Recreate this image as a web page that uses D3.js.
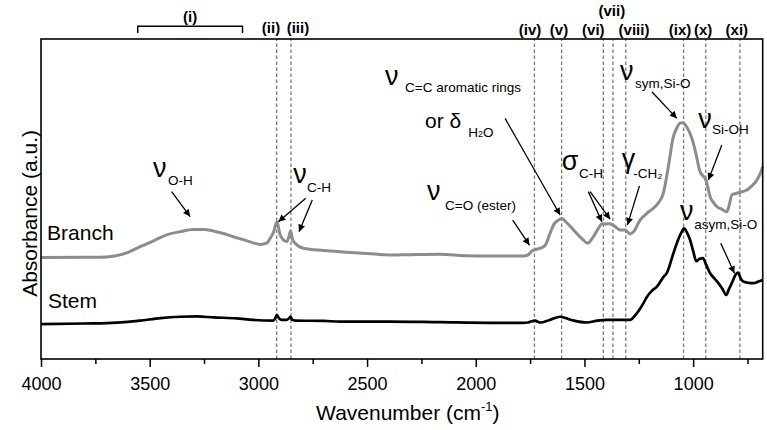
<!DOCTYPE html>
<html><head><meta charset="utf-8">
<script src="https://cdn.jsdelivr.net/npm/d3@7"></script>
<style>body{margin:0;background:#fff} svg{font-family:Arial,"Liberation Sans",sans-serif}</style>
</head><body><svg id="c" width="767" height="430"></svg>
<script>
// ---------- data ----------
const branchWn  = [4000,3800,3700,3652,3600,3544,3480,3422,3360,3299,3250,3207,3160,3115,3070,3023,2992,2960,2946,2930,2915,2900,2885,2869,2860,2852,2842,2831,2793,2700,2624,2500,2394,2300,2164,2050,1934,1850,1781,1760,1740,1725,1700,1680,1658,1642,1620,1605,1580,1550,1510,1485,1460,1435,1420,1400,1385,1370,1350,1336,1313,1290,1275,1244,1213,1183,1160,1137,1114,1091,1075,1060,1047,1035,1022,1005,991,968,950,945,935,922,905,891,870,845,835,822,810,799,780,753,730,707,690,680];
const branchAbs = [31.7,31.8,31.9,32.3,33.3,35.1,37.0,38.8,39.8,40.5,40.5,40.0,39.2,38.2,37.3,36.3,35.8,36.3,37.7,39.7,42.9,38.8,37.2,36.7,38.1,40.0,37.2,36.2,34.6,33.9,33.5,33.0,32.5,32.6,32.7,32.3,32.2,32.2,32.2,32.5,33.8,34.2,34.7,35.6,39.3,41.9,43.4,43.9,42.5,40.3,37.5,36.2,38.1,40.9,42.3,42.2,42.3,41.9,40.9,40.3,40.3,39.1,39.7,43.4,45.5,47.1,48.8,51.8,60.1,69.5,72.2,73.7,73.8,73.1,71.6,68.8,65.3,58.5,56.9,56.5,54.4,50.7,48.8,47.6,46.9,46.0,47.8,51.3,51.6,51.8,52.2,52.8,54.1,55.9,58.1,60.1];
const stemWn  = [4000,3800,3698,3600,3544,3450,3360,3280,3207,3100,3023,2931,2922,2915,2905,2892,2870,2858,2852,2845,2830,2700,2624,2400,2164,1934,1781,1760,1727,1705,1660,1612,1560,1489,1440,1397,1340,1290,1265,1229,1213,1190,1167,1137,1121,1091,1075,1055,1041,1030,1014,1000,986,970,955,940,922,900,884,865,848,835,822,805,794,780,769,745,723,700,680];
const stemAbs = [10.9,11.1,11.2,11.6,12.0,12.8,13.2,13.3,13.0,12.7,12.2,12.0,12.8,13.8,12.7,12.2,12.2,12.8,13.2,12.3,12.0,11.9,11.7,11.7,11.5,11.3,11.3,11.4,12.0,11.4,12.2,13.2,12.2,11.4,12.0,12.2,12.2,12.2,13.8,17.4,19.4,21.3,22.6,25.6,26.9,33.0,36.2,39.4,40.8,39.7,37.2,33.8,30.6,31.3,31.5,29.4,26.8,25.0,23.7,21.9,20.0,21.9,23.7,26.3,27.0,25.0,24.2,23.8,23.7,24.2,24.7];

const majorTicks = [4000,3500,3000,2500,2000,1500,1000];
const minorTicks = [3750,3250,2750,2250,1750,1250,750];

const bandWn     = [2916,2850,1730,1605,1413,1369,1310,1044,942,785];
const bandLabels = ["(ii)","(iii)","(iv)","(v)","(vi)","(vii)","(viii)","(ix)","(x)","(xi)"];
const bandLabelWn = [2942,2818,1750,1617,1459,1374,1272,1060,954,799];
const bandLabelV  = [101.9,101.9,101.25,101.25,101.25,107.2,101.25,101.25,101.25,101.25];
const bracketRange = [3555,3073];
const bracketLabel = "(i)";

// annotation: glyph, subscript, glyph position, subscript position (data coords)
const annotations = [
  {g:"ν", s:"O-H", gw:3485, gv:56.9, sw:3416, sv:54.4},
  {g:"ν", s:"C-H", gw:2840, gv:55.0, sw:2776, sv:52.2},
  {g:"ν", s:"C=C aromatic rings", gw:2417, gv:85.6, sw:2325, sv:83.4},
  {g:"ν", s:"C=O (ester)", gw:2224, gv:49.7, sw:2141, sv:46.6},
  {g:"σ", s:"C-H", gw:1604, gv:59.1, sw:1525, sv:56.6},
  {g:"γ", s:"-CH₂", gw:1328, gv:59.7, sw:1276, sv:56.6},
  {g:"ν", s:"sym,Si-O", gw:1336, gv:87.2, sw:1267, sv:84.7},
  {g:"ν", s:"Si-OH", gw:977, gv:72.2, sw:913, sv:70.3},
  {g:"ν", s:"asym,Si-O", gw:1060, gv:43.4, sw:995, sv:40.6}
];
const arrows = [
  [3399,52.3,3314,44.5],
  [2782,50.2,2908,42.9],
  [2752,49.7,2813,39.8],
  [1865,75.2,1612,45.0],
  [1830,43.4,1753,35.6],
  [1482,52.3,1420,42.9],
  [1474,52.3,1382,43.7],
  [1247,54.1,1302,41.9],
  [1190,83.5,1075,75.2],
  [868,66.9,930,55.9],
  [873,36.2,810,26.8]
];
const seriesLabels = [{t:"Branch", w:3972, v:37.2},{t:"Stem", w:3968, v:15.9}];

// ---------- chart ----------
const svg = d3.select('#c');
const x = d3.scaleLinear().domain([4000,680]).range([41,762.7]);
const y = d3.scaleLinear().domain([0,100]).range([359,39]);

svg.append('defs').append('marker')
  .attr('id','ah').attr('viewBox','0 0 10 10').attr('refX',10).attr('refY',5)
  .attr('markerWidth',9).attr('markerHeight',7).attr('markerUnits','userSpaceOnUse')
  .attr('orient','auto')
  .append('path').attr('d','M0,0L10,5L0,10z').attr('fill','#000');

// dashed band lines
svg.append('g').selectAll('line').data(bandWn).join('line')
  .attr('x1',d=>x(d)).attr('x2',d=>x(d)).attr('y1',y(0)).attr('y2',y(100))
  .attr('stroke','#7a7a7a').attr('stroke-width',1.3).attr('stroke-dasharray','3.5,2.5');

// band labels
svg.append('g').selectAll('text').data(bandLabels).join('text')
  .attr('x',(d,i)=>x(bandLabelWn[i])).attr('y',(d,i)=>y(bandLabelV[i]))
  .attr('text-anchor','middle').attr('font-weight','bold').attr('font-size',15).text(d=>d);

// bracket (i)
const bt = y(104), bb = y(101.9);
svg.append('path')
  .attr('d',`M${x(bracketRange[0])},${bb}V${bt}H${x(bracketRange[1])}V${bb}`)
  .attr('fill','none').attr('stroke','#000').attr('stroke-width',1.5);
svg.append('text').attr('x',x((bracketRange[0]+bracketRange[1])/2)).attr('y',y(105.3))
  .attr('text-anchor','middle').attr('font-weight','bold').attr('font-size',15).text(bracketLabel);

// curves
const line = d3.line().x(d=>x(d[0])).y(d=>y(d[1])).curve(d3.curveMonotoneX);
svg.append('path').datum(branchWn.map((w,i)=>[w,branchAbs[i]]))
  .attr('d',line).attr('fill','none').attr('stroke','#8c8c8c').attr('stroke-width',3).attr('stroke-linejoin','round');
svg.append('path').datum(stemWn.map((w,i)=>[w,stemAbs[i]]))
  .attr('d',line).attr('fill','none').attr('stroke','#000').attr('stroke-width',2.7).attr('stroke-linejoin','round');

// axes
const ax = svg.append('g').attr('transform',`translate(0,${y(0)})`)
  .call(d3.axisBottom(x).tickValues(majorTicks).tickSize(8).tickPadding(10).tickFormat(d3.format('d')));
ax.select('.domain').remove();
ax.selectAll('line').attr('stroke-width',1.5);
ax.selectAll('text').attr('font-size',18).attr('font-family','Arial,"Liberation Sans",sans-serif').attr('fill','#000');
const axm = svg.append('g').attr('transform',`translate(0,${y(0)})`)
  .call(d3.axisBottom(x).tickValues(minorTicks).tickSize(5).tickFormat(''));
axm.select('.domain').remove();
axm.selectAll('line').attr('stroke-width',1.5);

// frame
svg.append('rect').attr('x',x(4000)).attr('y',y(100)).attr('width',x(680)-x(4000)).attr('height',y(0)-y(100))
  .attr('fill','none').attr('stroke','#000').attr('stroke-width',1.6);

// axis titles
const xt = svg.append('text').attr('x',(x(4000)+x(680))/2+6).attr('y',420).attr('text-anchor','middle').attr('font-size',21);
xt.append('tspan').text('Wavenumber (cm');
xt.append('tspan').attr('font-size',13).attr('dy',-9).text('-1');
xt.append('tspan').attr('dy',9).text(')');
svg.append('text').attr('transform',`translate(37,${y(45.5)}) rotate(-90)`).attr('text-anchor','middle')
  .attr('font-size',21).text('Absorbance (a.u.)');

// series labels
svg.append('g').selectAll('text').data(seriesLabels).join('text')
  .attr('x',d=>x(d.w)).attr('y',d=>y(d.v)).attr('font-size',21).text(d=>d.t);

// annotations
const ag = svg.append('g');
annotations.forEach(a=>{
  ag.append('text').attr('x',x(a.gw)).attr('y',y(a.gv)).attr('font-size',27).text(a.g);
  ag.append('text').attr('x',x(a.sw)).attr('y',y(a.sv)).attr('font-size',13.5).text(a.s);
});
// "or δ H2O"
ag.append('text').attr('x',x(2233)).attr('y',y(72.2)).attr('font-size',21).text('or δ');
const h2o = ag.append('text').attr('x',x(2035)).attr('y',y(69.4)).attr('font-size',13.5);
h2o.append('tspan').text('H');
h2o.append('tspan').attr('font-size',9).text('2');
h2o.append('tspan').text('O');

// arrows
svg.append('g').selectAll('line').data(arrows).join('line')
  .attr('x1',d=>x(d[0])).attr('y1',d=>y(d[1])).attr('x2',d=>x(d[2])).attr('y2',d=>y(d[3]))
  .attr('stroke','#000').attr('stroke-width',1.3).attr('marker-end','url(#ah)');
</script></body></html>
